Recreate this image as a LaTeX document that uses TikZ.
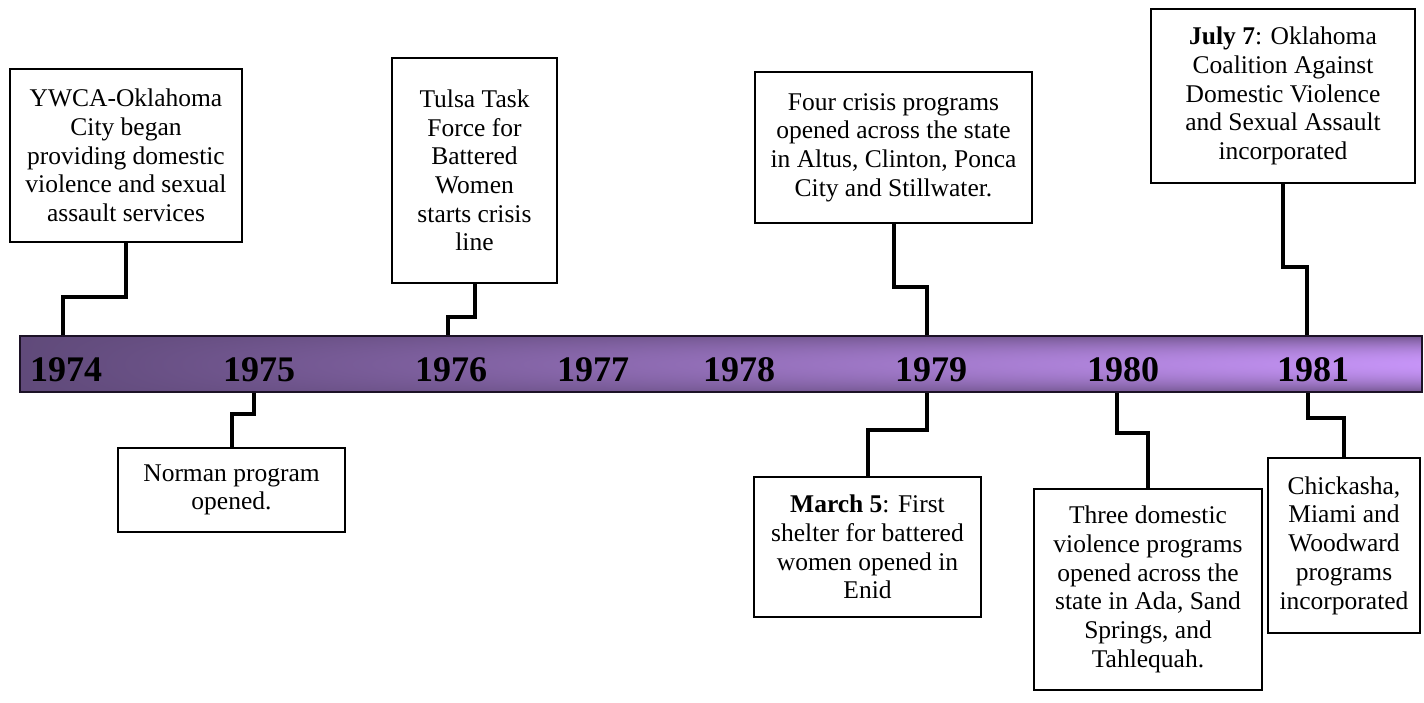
\documentclass[tikz,border=0pt]{standalone}
\usepackage{fontspec}
\setmainfont{Liberation Serif}
% bar colour: dark violet on the left to lilac on the right, rounded top and bottom
\pgfdeclarefunctionalshading{barshade}{\pgfpointorigin}{\pgfpoint{100bp}{100bp}}{}{
  exch 25 sub 50 div
  exch 50 sub 25 div abs dup mul
  1 index mul 0.42 mul neg 1 add
  1 index 0.40 mul 0.376 add 1 index mul
  2 index 0.29 mul 0.29 add 2 index mul
  3 index 0.49 mul 0.478 add 3 index mul
  5 -2 roll pop pop
}
\definecolor{barline}{RGB}{28,18,38}
\begin{document}
\begin{tikzpicture}[x=1pt,y=-1pt,
  event/.style={draw=black, line width=1.4pt, fill=white, align=center, inner sep=0pt,
     font=\fontsize{25.5}{28.7}\selectfont},
  year/.style={anchor=base, font=\fontsize{36}{40}\selectfont\bfseries},
  timebar/.style={draw=barline, line width=2.6pt, shade, shading=barshade,
     minimum width=1402pt, minimum height=56pt, inner sep=0pt},
  link/.style={line width=4pt, line join=miter}]
\useasboundingbox (0,0) rectangle (1424,702);

% time line
\node[timebar] (bar) at (721,364) {};
\node[year] (y1974) at (66,381) {1974};
\node[year] (y1975) at (259,381) {1975};
\node[year] (y1976) at (451,381) {1976};
\node[year] (y1977) at (593,381) {1977};
\node[year] (y1978) at (739,381) {1978};
\node[year] (y1979) at (931,381) {1979};
\node[year] (y1980) at (1123,381) {1980};
\node[year] (y1981) at (1313,381) {1981};

% events above the line
\node[event, minimum width=232pt, minimum height=173pt] (ywca) at (126,155.5)
  {YWCA-Oklahoma\\City began\\providing domestic\\violence and sexual\\assault services};
\node[event, minimum width=165pt, minimum height=225pt] (tulsa) at (474.5,170.5)
  {Tulsa Task\\Force for\\Battered\\Women\\starts crisis\\line};
\node[event, minimum width=277pt, minimum height=151pt] (four) at (893.5,147.5)
  {Four crisis programs\\opened across the state\\in Altus, Clinton, Ponca\\City and Stillwater.};
\node[event, minimum width=264pt, minimum height=174pt] (july) at (1283,96)
  {\textbf{July 7}: Oklahoma\\Coalition Against\\Domestic Violence\\and Sexual Assault\\incorporated};

% events below the line
\node[event, minimum width=227pt, minimum height=84pt] (norman) at (231.5,490)
  {Norman program\\opened.};
\node[event, minimum width=227pt, minimum height=140pt] (march) at (867.5,547)
  {\textbf{March 5}: First\\shelter for battered\\women opened in\\Enid};
\node[event, minimum width=228pt, minimum height=201pt] (three) at (1148,589.5)
  {Three domestic\\violence programs\\opened across the\\state in Ada, Sand\\Springs, and\\Tahlequah.};
\node[event, minimum width=152pt, minimum height=175pt] (chick) at (1344,545.5)
  {Chickasha,\\Miami and\\Woodward\\programs\\incorporated};

% stepped connectors
\draw[link] (ywca.south) |- (63,297) -- (63,297 |- bar.north);
\draw[link] (tulsa.south) |- (448,317) -- (448,317 |- bar.north);
\draw[link] (four.south) |- (927,287) -- (927,287 |- bar.north);
\draw[link] (july.south) |- (1307,267) -- (1307,267 |- bar.north);
\draw[link] (norman.north) |- (254,414) -- (254,414 |- bar.south);
\draw[link] (march.north) |- (927,430) -- (927,430 |- bar.south);
\draw[link] (three.north) |- (1117,433) -- (1117,433 |- bar.south);
\draw[link] (chick.north) |- (1308,418) -- (1308,418 |- bar.south);
\end{tikzpicture}
\end{document}
